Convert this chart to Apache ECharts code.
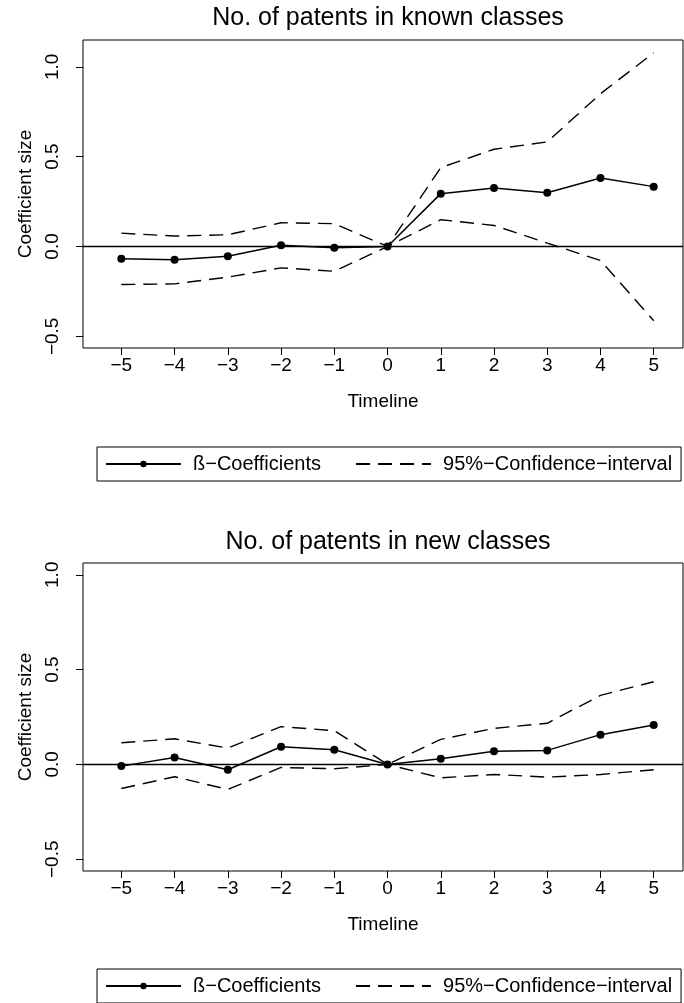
<!DOCTYPE html>
<html>
<head>
<meta charset="utf-8">
<script src="https://cdn.jsdelivr.net/npm/echarts@6/dist/echarts.min.js"></script>
<style>
  html, body { margin: 0; padding: 0; background: #fff; }
  #chart_1 { width: 684px; height: 1003px; }
</style>
</head>
<body>
<div id="chart_1"></div>
<script>
var dom = document.getElementById("chart_1");
var myChart = echarts.init(dom);

// event time (years around the event)
var timeline = [-5, -4, -3, -2, -1, 0, 1, 2, 3, 4, 5];
var yTicks = [-0.5, 0, 0.5, 1];

// No. of patents in known classes
var knownCoef  = [-0.069, -0.074, -0.054, 0.007, -0.007, 0, 0.294, 0.325, 0.299, 0.381, 0.333];
var knownUpper = [0.074, 0.058, 0.065, 0.132, 0.127, 0, 0.439, 0.541, 0.582, 0.85, 1.078];
var knownLower = [-0.212, -0.208, -0.171, -0.119, -0.138, 0, 0.149, 0.117, 0.019, -0.078, -0.413];

// No. of patents in new classes
var newCoef  = [-0.009, 0.037, -0.028, 0.093, 0.077, 0, 0.030, 0.070, 0.074, 0.157, 0.208];
var newUpper = [0.114, 0.135, 0.086, 0.199, 0.178, 0, 0.132, 0.190, 0.217, 0.364, 0.436];
var newLower = [-0.127, -0.065, -0.132, -0.016, -0.023, 0, -0.071, -0.053, -0.067, -0.053, -0.028];

var coefName = 'ß−Coefficients';
var ciName = '95%−Confidence−interval';
var font = 'Liberation Sans, Arial, Helvetica, sans-serif';

function pairs(vals) {
    return timeline.map(function (t, i) { return [t, vals[i]]; });
}
function minus(s) {
    return String(s).replace('-', '−');
}

function xAxisFor(idx) {
    return {
        type: 'value',
        gridIndex: idx,
        min: -5.72,
        max: 5.55,
        name: 'Timeline',
        nameLocation: 'middle',
        nameGap: 44,
        nameTextStyle: { color: '#000', fontSize: 19, fontFamily: font },
        splitLine: { show: false },
        axisLine: { show: false, onZero: false },
        axisTick: { show: true, length: 7, customValues: timeline, lineStyle: { color: '#000' } },
        axisLabel: {
            customValues: timeline, margin: 8, color: '#000', fontSize: 19, fontFamily: font,
            formatter: function (v) { return minus(v); }
        }
    };
}
function yAxisFor(idx, lo, hi) {
    return {
        type: 'value',
        gridIndex: idx,
        min: lo,
        max: hi,
        name: 'Coefficient size',
        nameLocation: 'middle',
        nameRotate: 90,
        nameGap: 47,
        nameTextStyle: { color: '#000', fontSize: 19, fontFamily: font },
        splitLine: { show: false },
        axisLine: { show: false, onZero: false },
        axisTick: { show: true, length: 7, customValues: yTicks, lineStyle: { color: '#000' } },
        axisLabel: {
            customValues: yTicks, rotate: 90, margin: 21, color: '#000', fontSize: 19, fontFamily: font,
            formatter: function (v) { return minus(v.toFixed(1)); }
        }
    };
}
function panelSeries(idx, coef, upper, lower) {
    var dashed = { color: '#000', width: 1.4, type: [14, 8] };
    return [
        {
            name: coefName, type: 'line', xAxisIndex: idx, yAxisIndex: idx,
            data: pairs(coef), symbol: 'circle', symbolSize: 8, z: 3,
            itemStyle: { color: '#000' },
            lineStyle: { color: '#000', width: 1.5 },
            markLine: {
                silent: true, symbol: 'none', label: { show: false },
                lineStyle: { color: '#000', width: 1.3, type: 'solid' },
                data: [{ yAxis: 0 }]
            }
        },
        {
            name: ciName, type: 'line', xAxisIndex: idx, yAxisIndex: idx,
            data: pairs(upper), symbol: 'none', itemStyle: { color: '#000' }, lineStyle: dashed
        },
        {
            name: ciName, type: 'line', xAxisIndex: idx, yAxisIndex: idx,
            data: pairs(lower), symbol: 'none', itemStyle: { color: '#000' }, lineStyle: dashed
        }
    ];
}
function legendAt(top) {
    return {
        data: [
            { name: coefName },
            { name: ciName, itemStyle: { color: 'rgba(0,0,0,0)', borderColor: 'rgba(0,0,0,0)', borderWidth: 0 } }
        ],
        left: 97,
        top: top,
        orient: 'horizontal',
        borderColor: '#000',
        borderWidth: 1,
        borderRadius: 0,
        padding: [7, 9, 7, 8],
        itemWidth: 75,
        itemHeight: 8,
        itemGap: 34,
        selectedMode: false,
        textStyle: { color: '#000', fontSize: 20, lineHeight: 20, fontFamily: font, padding: [0, 0, 0, 7] }
    };
}
function titleAt(text, top) {
    return {
        text: text,
        left: 388,
        top: top,
        padding: 0,
        textAlign: 'center',
        textStyle: { color: '#000', fontSize: 25, fontWeight: 'normal', fontFamily: font }
    };
}

option = {
    animation: false,
    backgroundColor: '#fff',
    title: [
        titleAt('No. of patents in known classes', 6),
        titleAt('No. of patents in new classes', 530)
    ],
    legend: [legendAt(447), legendAt(969)],
    grid: [
        { left: 83, top: 40, width: 600, height: 308, show: true, borderColor: '#000', borderWidth: 1 },
        { left: 83, top: 563, width: 600, height: 308, show: true, borderColor: '#000', borderWidth: 1 }
    ],
    xAxis: [xAxisFor(0), xAxisFor(1)],
    yAxis: [yAxisFor(0, -0.565, 1.149), yAxisFor(1, -0.562, 1.062)],
    series: panelSeries(0, knownCoef, knownUpper, knownLower)
        .concat(panelSeries(1, newCoef, newUpper, newLower))
};

if (option && typeof option === "object") {
    myChart.setOption(option, true);
}
</script>
</body>
</html>
